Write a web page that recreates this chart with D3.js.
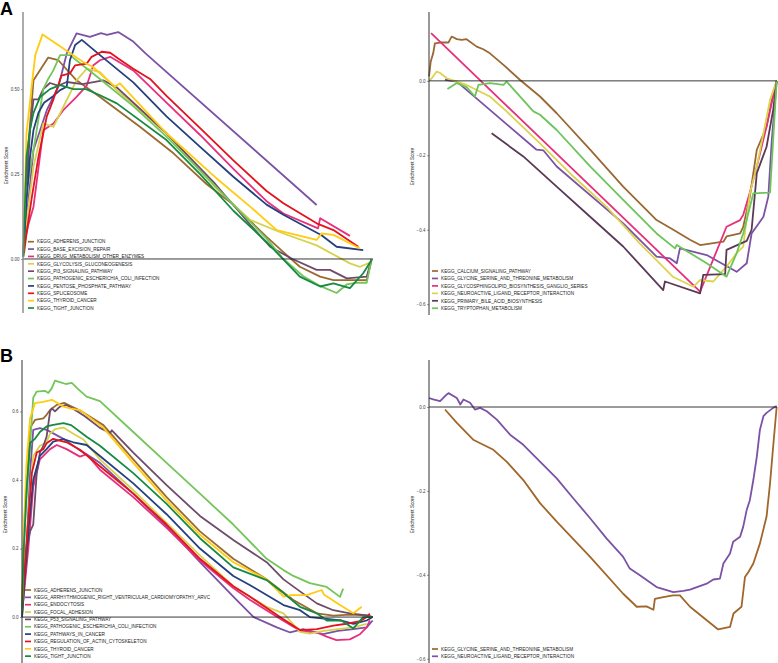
<!DOCTYPE html>
<html><head><meta charset="utf-8">
<script src="https://cdn.jsdelivr.net/npm/d3@7"></script>
<style>
html,body{margin:0;padding:0;background:#fff;}
svg{display:block;font-family:"Liberation Sans",Arial,sans-serif;}
</style></head>
<body><svg id="chart" width="778" height="663"></svg>
<script>
// ---------------- DATA (x = rank position in %, y = running enrichment score) ----------------
// Panel A, left
const A1_names = ["KEGG_ADHERENS_JUNCTION","KEGG_BASE_EXCISION_REPAIR","KEGG_DRUG_METABOLISM_OTHER_ENZYMES","KEGG_GLYCOLYSIS_GLUCONEOGENESIS","KEGG_PI3_SIGNALING_PATHWAY","KEGG_PATHOGENIC_ESCHERICHIA_COLI_INFECTION","KEGG_PENTOSE_PHOSPHATE_PATHWAY","KEGG_SPLICEOSOME","KEGG_THYROID_CANCER","KEGG_TIGHT_JUNCTION"];
const A1_colors = ["#9b6a2f","#7b52a5","#e7307c","#d7d24e","#6e4b6a","#74c55a","#24407f","#e3121d","#ffcc0f","#178a42"];
const A1_adherens = [[0.1,0.017],[1.0,0.213],[1.5,0.33],[3.0,0.526],[4.9,0.556],[7.2,0.593],[10.1,0.585],[15.3,0.526],[22.0,0.477],[33.4,0.389],[43.0,0.311],[52.5,0.22],[60.1,0.16],[69.6,0.065],[74.4,0.02],[79.1,-0.023],[84.9,-0.052],[88.7,-0.062],[93.4,-0.062],[98.2,-0.062],[99.6,-0.003]];
const A1_base = [[0.6,0.075],[3.0,0.321],[6.8,0.438],[10.1,0.507],[12.5,0.605],[15.3,0.664],[19.1,0.654],[22.3,0.665],[24.0,0.66],[27.2,0.668],[31.5,0.64],[35.0,0.605],[83.9,0.159]];
const A1_drug = [[0.6,0.056],[1.5,0.1],[3.0,0.154],[5.8,0.379],[8.7,0.399],[11.5,0.438],[15.3,0.477],[18.2,0.51],[20.1,0.57],[22.0,0.585],[24.9,0.595],[31.5,0.555],[41.0,0.46],[50.6,0.365],[60.1,0.265],[69.6,0.17],[74.4,0.134],[84.3,0.09],[84.9,0.12],[93.4,0.068]];
const A1_glyco = [[0.6,0.075],[3.0,0.272],[5.8,0.399],[8.7,0.389],[12.5,0.468],[15.3,0.526],[18.2,0.56],[22.0,0.55],[26.8,0.497],[41.0,0.37],[55.0,0.21],[64.9,0.115],[74.4,0.075],[83.9,0.04],[93.4,-0.013],[96.3,-0.023],[99.6,-0.008]];
const A1_pi3 = [[0.1,0.007],[1.0,0.2],[2.0,0.38],[3.0,0.47],[4.4,0.47],[5.8,0.5],[7.7,0.518],[10.0,0.51],[12.5,0.521],[17.0,0.515],[22.9,0.526],[26.8,0.505],[41.0,0.37],[55.0,0.22],[65.0,0.1],[70.6,0.036],[77.0,0.0],[83.9,-0.032],[87.7,-0.032],[92.5,-0.057],[98.2,-0.052],[99.6,0.0]];
const A1_ecoli = [[0.1,0.01],[1.0,0.2],[3.0,0.321],[5.8,0.5],[7.2,0.53],[8.7,0.556],[10.6,0.6],[13.4,0.6],[16.3,0.576],[22.0,0.53],[31.5,0.45],[41.0,0.36],[50.6,0.26],[60.1,0.16],[69.6,0.06],[74.4,0.0],[80.0,-0.05],[85.0,-0.08],[89.6,-0.1],[92.5,-0.075],[95.0,-0.07],[98.2,-0.07],[99.6,0.0]];
const A1_pentose = [[0.1,0.017],[1.0,0.17],[2.0,0.3],[3.0,0.38],[4.4,0.43],[6.0,0.46],[8.7,0.48],[10.6,0.497],[12.5,0.507],[13.4,0.585],[14.9,0.63],[16.8,0.645],[22.0,0.6],[31.5,0.52],[41.0,0.42],[50.6,0.33],[60.1,0.242],[69.6,0.16],[74.4,0.13],[85.3,0.07],[89.6,0.036],[97.2,0.026]];
const A1_splice = [[0.3,0.017],[1.0,0.075],[2.5,0.18],[4.4,0.3],[6.8,0.42],[8.7,0.47],[11.0,0.54],[13.4,0.546],[14.9,0.57],[18.2,0.575],[19.6,0.595],[22.5,0.61],[24.9,0.607],[27.2,0.59],[31.5,0.56],[36.3,0.53],[41.0,0.48],[50.6,0.385],[60.1,0.29],[69.6,0.2],[74.4,0.164],[83.9,0.105],[88.7,0.085],[95.8,0.036]];
const A1_thyroid = [[0.1,0.02],[1.0,0.37],[2.5,0.51],[3.5,0.6],[5.6,0.661],[17.2,0.58],[20.0,0.565],[26.3,0.507],[27.7,0.517],[41.0,0.37],[55.0,0.24],[64.9,0.154],[72.5,0.085],[83.9,0.056],[85.3,0.075],[88.7,0.071],[96.3,0.031]];
const A1_tight = [[0.1,0.007],[0.6,0.17],[1.0,0.3],[2.0,0.38],[3.0,0.43],[4.9,0.477],[7.7,0.5],[10.6,0.512],[14.4,0.5],[18.0,0.5],[22.0,0.482],[26.8,0.458],[41.0,0.35],[50.6,0.25],[60.1,0.142],[69.6,0.05],[79.1,-0.052],[84.9,-0.081],[88.7,-0.072],[93.4,-0.086],[97.2,-0.042],[99.6,-0.003]];
const A1_ticks = [0, 0.25, 0.5];

// Panel A, right
const A2_names = ["KEGG_CALCIUM_SIGNALING_PATHWAY","KEGG_GLYCINE_SERINE_AND_THREONINE_METABOLISM","KEGG_GLYCOSPHINGOLIPID_BIOSYNTHESIS_GANGLIO_SERIES","KEGG_NEUROACTIVE_LIGAND_RECEPTOR_INTERACTION","KEGG_PRIMARY_BILE_ACID_BIOSYNTHESIS","KEGG_TRYPTOPHAN_METABOLISM"];
const A2_colors = ["#9a6832","#7b52a5","#e7307c","#dcd44d","#5b3a55","#6dc45a"];
const A2_calcium = [[0,0.012],[0.5,0.052],[1.2,0.074],[1.7,0.101],[3.2,0.103],[5.6,0.103],[6.0,0.11],[6.5,0.119],[8.0,0.112],[9.4,0.11],[10.8,0.112],[13.7,0.092],[15.6,0.085],[17.5,0.074],[21.4,0.043],[26.1,0.003],[31.9,-0.042],[36.7,-0.087],[46.3,-0.185],[55.8,-0.284],[65.4,-0.374],[70.2,-0.4],[75.0,-0.427],[77.9,-0.441],[84.6,-0.432],[85.5,-0.418],[89.4,-0.41],[90.3,-0.392],[92.2,-0.311],[94.2,-0.185],[97.0,-0.123],[98.5,-0.051],[99.9,0.0]];
const A2_glycine = [[4.6,0.003],[8.0,-0.002],[17.5,-0.078],[30.9,-0.185],[32.9,-0.187],[36.7,-0.23],[55.8,-0.383],[65.4,-0.472],[69.3,-0.477],[71.2,-0.49],[72.1,-0.45],[79.8,-0.468],[88.4,-0.513],[91.3,-0.49],[92.7,-0.41],[96.1,-0.365],[97.5,-0.311],[98.5,-0.16],[99.9,0.0]];
const A2_glycosph = [[0.6,0.128],[77.9,-0.566],[85.5,-0.392],[89.4,-0.374],[90.3,-0.36],[92.2,-0.3],[94.2,-0.23],[97.0,-0.123],[99.9,0.0]];
const A2_neuro = [[0,0.0],[0.8,0.007],[2.2,0.025],[3.2,0.021],[5.1,0.007],[8.0,-0.002],[10.8,-0.011],[17.5,-0.042],[22.3,-0.082],[31.9,-0.168],[41.5,-0.257],[51.0,-0.338],[60.6,-0.437],[70.2,-0.527],[76.0,-0.553],[77.9,-0.535],[81.7,-0.539],[85.5,-0.499],[88.4,-0.463],[90.3,-0.445],[92.2,-0.302],[94.2,-0.23],[96.1,-0.141],[98.0,-0.051],[99.9,0.0]];
const A2_bile = [[18.0,-0.141],[27.1,-0.203],[36.7,-0.284],[46.3,-0.365],[55.8,-0.445],[67.3,-0.562],[67.8,-0.539],[77.9,-0.571],[78.8,-0.521],[85.1,-0.519],[85.5,-0.454],[91.3,-0.43],[92.7,-0.4],[94.2,-0.248],[97.0,-0.177],[98.9,-0.078],[99.9,0.0]];
const A2_trypto = [[5.3,-0.022],[8.0,-0.006],[10.8,-0.017],[13.2,-0.042],[14.2,-0.011],[17.5,-0.006],[21.4,-0.011],[22.3,-0.002],[30.0,-0.082],[31.9,-0.091],[36.7,-0.132],[46.3,-0.23],[55.8,-0.32],[65.4,-0.41],[70.7,-0.45],[71.2,-0.441],[79.8,-0.49],[85.5,-0.526],[88.4,-0.463],[90.3,-0.41],[93.2,-0.302],[98.0,-0.3],[99.9,0.0]];
const A2_ticks = [0, -0.2, -0.4, -0.6];

// Panel B, left
const B1_names = ["KEGG_ADHERENS_JUNCTION","KEGG_ARRHYTHMOGENIC_RIGHT_VENTRICULAR_CARDIOMYOPATHY_ARVC","KEGG_ENDOCYTOSIS","KEGG_FOCAL_ADHESION","KEGG_P53_SIGNALING_PATHWAY","KEGG_PATHOGENIC_ESCHERICHIA_COLI_INFECTION","KEGG_PATHWAYS_IN_CANCER","KEGG_REGULATION_OF_ACTIN_CYTOSKELETON","KEGG_THYROID_CANCER","KEGG_TIGHT_JUNCTION"];
const B1_colors = ["#9b6a2f","#7b52a5","#e7307c","#d7d24e","#6e4b6a","#74c55a","#24407f","#e3121d","#ffcc0f","#178a42"];
const B1_adherens = [[0,0.01],[0.8,0.3],[1.8,0.45],[2.3,0.552],[3.7,0.575],[6.1,0.58],[7.0,0.59],[8.0,0.604],[9.9,0.619],[12.0,0.625],[14.0,0.615],[17.0,0.6],[23.2,0.56],[31.7,0.46],[41.2,0.35],[50.7,0.25],[60.2,0.17],[69.7,0.11],[77.3,0.05],[84.0,0.011],[88.7,0.004],[93.4,0.007],[98.2,0.005],[99.9,0.0]];
const B1_arvc = [[0,0.0],[1.3,0.2],[2.3,0.42],[3.2,0.546],[5.1,0.551],[7.0,0.546],[8.9,0.536],[11.8,0.52],[16.0,0.49],[22.2,0.45],[31.7,0.36],[41.2,0.265],[50.7,0.16],[60.2,0.06],[66.0,0.0],[72.6,-0.03],[76.4,-0.045],[80.1,-0.035],[85.8,-0.05],[90.0,-0.04],[94.4,-0.035],[98.2,-0.03],[99.9,-0.01]];
const B1_endo = [[0,0.01],[1.8,0.2],[3.2,0.38],[5.1,0.46],[8.0,0.49],[9.9,0.502],[12.7,0.49],[16.5,0.468],[18.4,0.475],[22.2,0.43],[31.7,0.35],[41.2,0.26],[50.7,0.165],[60.2,0.085],[65.0,0.05],[73.5,-0.005],[79.2,-0.04],[84.0,-0.045],[86.8,-0.057],[89.6,-0.067],[93.4,-0.065],[96.3,-0.05],[98.2,-0.03],[99.1,-0.01]];
const B1_focal = [[0,0.0],[1.3,0.2],[2.3,0.36],[3.2,0.47],[5.1,0.5],[7.0,0.51],[8.0,0.535],[9.4,0.548],[11.8,0.553],[14.6,0.535],[17.5,0.518],[22.2,0.46],[31.7,0.37],[41.2,0.275],[50.7,0.18],[60.2,0.09],[69.7,0.03],[74.5,0.011],[79.2,-0.043],[82.0,-0.048],[86.0,-0.04],[90.0,-0.035],[94.4,-0.03],[98.2,-0.02]];
const B1_p53 = [[0,0.02],[1.3,0.2],[2.3,0.25],[3.2,0.27],[4.2,0.42],[5.1,0.48],[6.1,0.5],[7.0,0.526],[8.0,0.6],[8.5,0.609],[9.4,0.6],[10.8,0.614],[12.7,0.619],[15.0,0.605],[18.0,0.585],[22.2,0.552],[25.1,0.537],[25.6,0.545],[31.7,0.48],[41.2,0.385],[50.7,0.295],[60.2,0.225],[69.7,0.16],[74.5,0.11],[79.2,0.075],[84.0,0.04],[88.7,0.02],[93.4,0.011],[98.2,0.005],[99.9,0.0]];
const B1_ecoli = [[0,0.01],[0.5,0.2],[1.3,0.35],[2.3,0.5],[3.2,0.64],[4.2,0.658],[6.5,0.66],[7.5,0.654],[8.5,0.668],[9.4,0.69],[11.0,0.685],[12.5,0.68],[14.2,0.683],[16.0,0.665],[18.4,0.643],[22.2,0.63],[31.7,0.54],[41.2,0.45],[50.7,0.36],[60.2,0.27],[69.7,0.17],[74.5,0.137],[77.3,0.12],[82.0,0.099],[86.8,0.088],[90.6,0.059],[91.5,0.083]];
const B1_cancer = [[0,0.0],[1.8,0.25],[3.2,0.4],[5.1,0.47],[7.0,0.49],[8.9,0.512],[11.8,0.519],[14.6,0.51],[18.4,0.502],[22.2,0.47],[31.7,0.39],[41.2,0.3],[50.7,0.2],[60.2,0.12],[65.0,0.093],[74.5,0.035],[79.2,0.02],[82.0,0.0],[86.8,-0.005],[91.0,-0.01],[94.4,-0.02],[98.2,-0.01],[99.9,0.0]];
const B1_actin = [[0,0.02],[1.3,0.22],[2.8,0.42],[4.2,0.48],[6.1,0.49],[7.0,0.507],[8.9,0.52],[9.9,0.517],[12.7,0.51],[16.5,0.488],[22.2,0.44],[31.7,0.36],[41.2,0.27],[50.7,0.17],[60.2,0.09],[65.0,0.059],[73.5,0.0],[79.2,-0.038],[84.0,-0.035],[88.7,-0.025],[93.4,-0.018],[96.3,-0.012],[98.2,0.0],[99.1,0.01]];
const B1_thyroid = [[0,0.02],[0.5,0.25],[1.3,0.45],[2.3,0.58],[3.7,0.624],[6.0,0.628],[8.5,0.634],[9.5,0.628],[11.8,0.614],[14.0,0.608],[16.5,0.604],[23.2,0.552],[31.7,0.45],[41.2,0.34],[50.7,0.24],[60.2,0.16],[69.7,0.11],[74.5,0.06],[76.8,0.064],[81.1,0.064],[85.4,0.079],[86.0,0.066],[90.6,0.035],[94.4,0.011],[96.8,0.03]];
const B1_tight = [[0,0.02],[0.5,0.2],[1.3,0.37],[2.3,0.508],[3.7,0.52],[5.1,0.54],[7.0,0.556],[8.9,0.561],[11.8,0.566],[14.0,0.56],[18.4,0.526],[22.2,0.5],[31.7,0.42],[41.2,0.33],[50.7,0.23],[60.2,0.145],[69.7,0.108],[74.5,0.07],[79.2,0.03],[84.0,0.011],[86.8,-0.01],[91.0,-0.01],[94.4,-0.033],[97.2,0.0],[99.9,0.0]];
const B1_ticks = [0, 0.2, 0.4, 0.6];

// Panel B, right
const B2_names = ["KEGG_GLYCINE_SERINE_AND_THREONINE_METABOLISM","KEGG_NEUROACTIVE_LIGAND_RECEPTOR_INTERACTION"];
const B2_colors = ["#a0662a","#7b52a5"];
const B2_glycine = [[4.6,-0.006],[8.0,-0.038],[12.7,-0.078],[15.6,-0.09],[18.5,-0.102],[22.3,-0.13],[27.1,-0.174],[31.9,-0.229],[36.7,-0.273],[46.3,-0.357],[55.8,-0.445],[59.7,-0.476],[62.5,-0.475],[64.5,-0.483],[64.9,-0.457],[67.3,-0.453],[70.2,-0.449],[72.1,-0.449],[75.0,-0.476],[83.1,-0.53],[86.5,-0.524],[87.5,-0.492],[89.8,-0.476],[90.8,-0.405],[91.8,-0.393],[93.2,-0.373],[95.1,-0.325],[97.0,-0.261],[98.0,-0.182],[98.9,-0.094],[99.9,0.0]];
const B2_neuro = [[0,0.0215],[1.2,0.018],[3.2,0.014],[5.1,0.03],[5.6,0.033],[8.0,0.0215],[9.0,0.006],[9.9,0.018],[11.8,0.01],[13.2,-0.006],[14.7,-0.002],[16.6,-0.01],[19.5,-0.03],[23.3,-0.066],[27.1,-0.09],[31.9,-0.13],[36.7,-0.17],[41.5,-0.218],[46.3,-0.265],[51.0,-0.313],[55.8,-0.357],[57.7,-0.385],[60.6,-0.401],[65.4,-0.429],[70.2,-0.441],[73.1,-0.438],[75.0,-0.435],[79.8,-0.421],[81.7,-0.411],[83.6,-0.409],[84.6,-0.373],[86.5,-0.349],[87.4,-0.321],[89.4,-0.309],[90.3,-0.285],[91.3,-0.245],[92.2,-0.222],[93.2,-0.174],[94.2,-0.118],[95.1,-0.054],[96.1,-0.022],[97.0,-0.014],[98.9,-0.002],[99.9,0.002]];
const B2_ticks = [0, -0.2, -0.4, -0.6];

// ---------------- DRAWING ----------------
const svg = d3.select("#chart");

function panel(cfg) {
  const x = d3.scaleLinear().domain([0, 100]).range([cfg.x0, cfg.x1]);
  const y = d3.scaleLinear().domain(cfg.ydom).range([cfg.yb, cfg.yt]);
  const g = svg.append("g");

  // curves
  const line = d3.line().x(d => x(d[0])).y(d => y(d[1]));
  cfg.series.forEach((s, i) => {
    g.append("path").datum(s).attr("d", line)
      .attr("fill", "none").attr("stroke", cfg.colors[i])
      .attr("stroke-width", 1.8).attr("stroke-linejoin", "round");
  });

  // legend
  cfg.names.forEach((n, i) => {
    const ly = cfg.ly + i * cfg.ldy;
    g.append("line").attr("x1", cfg.lx).attr("x2", cfg.lx + 6)
      .attr("y1", ly).attr("y2", ly).attr("stroke", cfg.colors[i]).attr("stroke-width", 1.7);
    g.append("text").attr("x", cfg.lx + 9).attr("y", ly + 1.7)
      .attr("font-size", 4.7).attr("fill", "#222").text(n);
  });

  // zero line
  g.append("line").attr("x1", cfg.x0).attr("x2", cfg.x1)
    .attr("y1", y(0)).attr("y2", y(0)).attr("stroke", "#222").attr("stroke-width", 0.9);

  // y axis
  const ax = d3.axisLeft(y).tickValues(cfg.ticks).tickFormat(d3.format(cfg.fmt)).tickSize(2).tickPadding(1.5);
  const ag = g.append("g").attr("transform", `translate(${cfg.x0},0)`).call(ax);
  ag.select(".domain").remove();
  ag.selectAll(".tick line").attr("stroke", "#555").attr("stroke-width", 0.6);
  ag.selectAll(".tick text").attr("font-size", 4.5).attr("fill", "#444")
    .attr("font-family", "Liberation Sans, Arial, sans-serif");
  g.append("line").attr("x1", cfg.x0).attr("x2", cfg.x0)
    .attr("y1", cfg.yt).attr("y2", cfg.yb).attr("stroke", cfg.axisColor).attr("stroke-width", cfg.axisW);

  // y label
  g.append("text").attr("transform", `translate(${cfg.x0 - 15.5},${(cfg.yt + cfg.yb) / 2 + 3}) rotate(-90)`)
    .attr("text-anchor", "middle").attr("font-size", 4.7).attr("fill", "#222").text("Enrichment Score");
}

panel({x0: 23, x1: 373, yt: 12, yb: 313, ydom: [-0.159, 0.727], ticks: A1_ticks, fmt: ".2f",
  axisColor: "#888", axisW: 1.4,
  series: [A1_adherens, A1_base, A1_drug, A1_glyco, A1_pi3, A1_ecoli, A1_pentose, A1_splice, A1_thyroid, A1_tight],
  names: A1_names, colors: A1_colors, lx: 28, ly: 241.7, ldy: 7.37});

panel({x0: 429, x1: 777, yt: 12, yb: 315, ydom: [-0.629, 0.185], ticks: A2_ticks, fmt: ".1f",
  axisColor: "#333", axisW: 1,
  series: [A2_calcium, A2_glycine, A2_glycosph, A2_neuro, A2_bile, A2_trypto],
  names: A2_names, colors: A2_colors, lx: 432, ly: 271, ldy: 7.45});

panel({x0: 22, x1: 373, yt: 360, yb: 663, ydom: [-0.134, 0.75], ticks: B1_ticks, fmt: ".1f",
  axisColor: "#333", axisW: 1,
  series: [B1_adherens, B1_arvc, B1_endo, B1_focal, B1_p53, B1_ecoli, B1_cancer, B1_actin, B1_thyroid, B1_tight],
  names: B1_names, colors: B1_colors, lx: 25, ly: 590, ldy: 7.35});

panel({x0: 429, x1: 777, yt: 360, yb: 663, ydom: [-0.61, 0.112], ticks: B2_ticks, fmt: ".1f",
  axisColor: "#333", axisW: 1,
  series: [B2_glycine, B2_neuro],
  names: B2_names, colors: B2_colors, lx: 432, ly: 649, ldy: 7.3});

// panel letters
svg.append("text").attr("x", 0).attr("y", 15).attr("font-size", 18).attr("font-weight", "bold")
  .attr("fill", "#000").text("A");
svg.append("text").attr("x", 0).attr("y", 362).attr("font-size", 18).attr("font-weight", "bold")
  .attr("fill", "#000").text("B");
</script></body></html>
